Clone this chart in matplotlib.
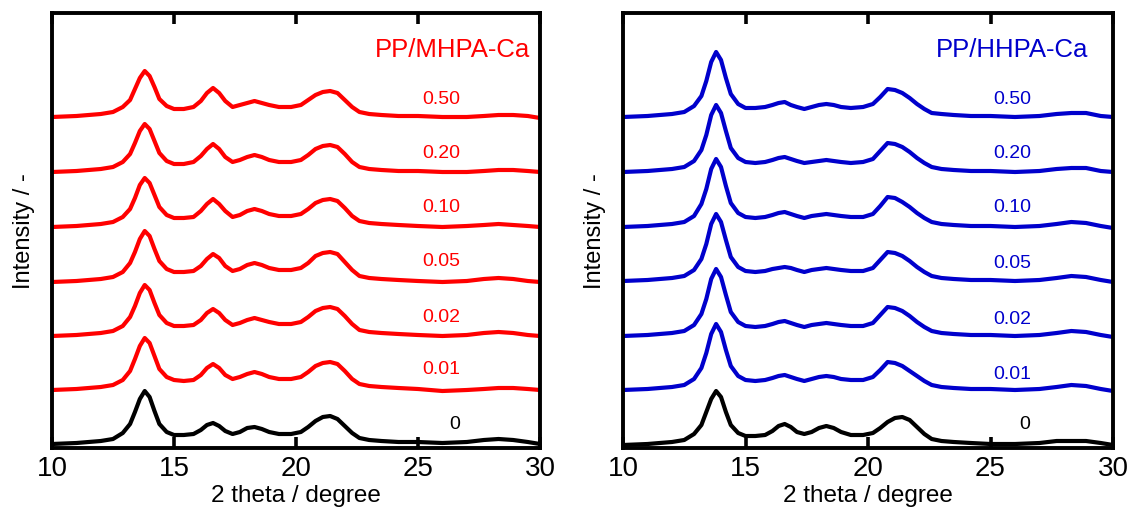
import matplotlib
matplotlib.use("Agg")
import matplotlib.pyplot as plt

plt.rcParams['font.family'] = ['Liberation Sans', 'DejaVu Sans']

# 2theta sample positions (degree)
two_theta = [10.0, 11.0, 12.0, 12.5, 12.9, 13.2, 13.4, 13.6, 13.8, 14.0, 14.2, 14.4,
             14.7, 15.0, 15.4, 15.8, 16.1, 16.35, 16.6, 16.85, 17.1, 17.4, 17.7, 18.0,
             18.3, 18.6, 18.9, 19.3, 19.8, 20.2, 20.5, 20.8, 21.1, 21.4, 21.7, 22.0,
             22.3, 22.6, 23.0, 23.5, 24.2, 25.0, 26.0, 27.0, 27.7, 28.3, 28.9, 29.5, 30.0]

# ---- PP/MHPA-Ca (left) intensities, relative to each curve's own baseline ----
mh_labels = ["0", "0.01", "0.02", "0.05", "0.10", "0.20", "0.50"]
mh_0   = [0, 1, 3, 5, 11, 20, 32, 45, 53, 47, 33, 20, 12, 9, 9, 10, 14, 19, 21, 18, 13, 10, 12, 16, 17, 15, 12, 10, 10, 12, 17, 23, 27, 28, 25, 18, 11, 6, 4, 3, 2, 2, 1, 2, 4, 5, 4, 2, 0]
mh_001 = [0, 1, 3, 5, 10, 19, 31, 44, 52, 47, 34, 21, 13, 10, 9, 10, 15, 22, 26, 22, 15, 11, 13, 16, 18, 16, 13, 11, 11, 13, 18, 24, 27, 28, 26, 19, 11, 6, 4, 3, 2, 1, -1, 0, 1, 2, 2, 1, 0]
mh_002 = [0, 1, 3, 5, 10, 19, 30, 43, 51, 46, 33, 21, 13, 10, 10, 11, 16, 23, 27, 23, 16, 11, 13, 16, 18, 16, 14, 12, 12, 14, 19, 25, 28, 29, 27, 20, 12, 6, 4, 3, 2, 1, 0, 1, 3, 4, 3, 1, 0]
mh_005 = [0, 1, 3, 5, 10, 19, 30, 43, 51, 46, 33, 21, 13, 10, 10, 11, 16, 23, 28, 24, 16, 11, 13, 17, 19, 17, 14, 12, 12, 14, 19, 26, 29, 30, 28, 20, 12, 6, 4, 3, 2, 1, 0, 1, 3, 4, 3, 1, 0]
mh_010 = [0, 1, 3, 5, 10, 18, 29, 42, 49, 44, 32, 20, 12, 9, 9, 10, 16, 23, 28, 23, 16, 10, 12, 16, 18, 16, 13, 11, 11, 13, 18, 24, 27, 28, 26, 19, 11, 6, 4, 3, 2, 1, 0, 1, 2, 3, 2, 1, 0]
mh_020 = [0, 1, 3, 5, 10, 18, 29, 41, 48, 43, 31, 19, 11, 8, 8, 10, 16, 23, 28, 23, 15, 10, 12, 15, 17, 15, 12, 10, 10, 12, 17, 23, 26, 27, 25, 18, 10, 5, 3, 2, 1, 1, 0, 0, 1, 2, 2, 1, 0]
mh_050 = [0, 1, 3, 5, 10, 17, 28, 39, 46, 41, 30, 18, 11, 8, 8, 10, 16, 24, 29, 24, 16, 10, 12, 14, 16, 14, 12, 10, 10, 12, 17, 22, 25, 26, 24, 17, 10, 5, 3, 2, 1, 1, 0, 0, 1, 2, 2, 1, -1]
mh_curves = [mh_0, mh_001, mh_002, mh_005, mh_010, mh_020, mh_050]

# ---- PP/HHPA-Ca (right) ----
hh_labels = ["0", "0.01", "0.02", "0.05", "0.10", "0.20", "0.50"]
hh_0   = [0, 1, 3, 5, 11, 20, 33, 46, 54, 48, 33, 20, 12, 9, 9, 10, 14, 19, 21, 18, 13, 11, 13, 17, 19, 17, 13, 10, 10, 12, 17, 23, 27, 28, 25, 18, 11, 6, 4, 3, 2, 1, 1, 2, 4, 4, 4, 2, 0]
hh_001 = [0, 1, 3, 5, 11, 22, 37, 56, 66, 58, 40, 24, 14, 10, 9, 10, 12, 14, 15, 13, 11, 9, 11, 13, 14, 13, 11, 10, 10, 13, 20, 28, 27, 24, 19, 14, 9, 5, 3, 2, 1, 1, 0, 1, 3, 5, 4, 1, -1]
hh_002 = [0, 1, 3, 5, 11, 22, 37, 57, 67, 59, 41, 24, 14, 10, 9, 10, 12, 14, 15, 13, 11, 9, 11, 12, 13, 12, 11, 10, 10, 13, 21, 29, 28, 25, 20, 14, 9, 5, 3, 2, 1, 1, 0, 1, 3, 5, 4, 1, -1]
hh_005 = [0, 1, 3, 5, 11, 22, 37, 57, 67, 59, 41, 24, 14, 10, 9, 10, 12, 13, 14, 13, 11, 9, 11, 12, 13, 12, 11, 10, 10, 13, 21, 29, 28, 25, 20, 14, 9, 5, 3, 2, 1, 1, 0, 1, 3, 5, 4, 1, -1]
hh_010 = [0, 1, 3, 5, 11, 23, 38, 58, 68, 60, 41, 24, 14, 10, 9, 10, 12, 14, 15, 13, 11, 9, 11, 12, 13, 12, 11, 10, 10, 13, 21, 30, 29, 25, 20, 14, 9, 5, 3, 2, 1, 1, 0, 1, 3, 5, 4, 1, -1]
hh_020 = [0, 1, 3, 5, 11, 22, 37, 57, 67, 59, 41, 24, 14, 10, 9, 10, 12, 14, 15, 13, 11, 9, 10, 11, 12, 11, 10, 9, 10, 13, 21, 29, 28, 25, 20, 14, 9, 5, 3, 2, 1, 1, 0, 1, 3, 4, 4, 1, 0]
hh_050 = [0, 1, 3, 5, 11, 21, 36, 55, 65, 57, 39, 23, 13, 9, 9, 10, 12, 14, 15, 12, 10, 8, 10, 12, 13, 12, 10, 9, 10, 13, 20, 28, 27, 24, 19, 13, 8, 4, 3, 2, 1, 1, 0, 1, 3, 4, 4, 1, 0]
hh_curves = [hh_0, hh_001, hh_002, hh_005, hh_010, hh_020, hh_050]

# vertical stacking offsets (layout)
mh_offsets = [4, 58, 112, 166, 221, 276, 331]
hh_offsets = [3, 58, 112, 167, 221, 276, 331]

# label placement (layout)
mh_label_x = [26.5, 25.95, 25.95, 25.95, 25.95, 25.95, 25.95]
mh_label_y = [24, 79, 132, 187, 241, 296, 349]
hh_label_x = [26.4, 25.9, 25.9, 25.9, 25.9, 25.9, 25.9]
hh_label_y = [24, 74, 130, 185, 241, 295, 349]

W, H = 1129, 510
fig = plt.figure(figsize=(W / 100, H / 100), dpi=100)
axL = fig.add_axes([52 / W, 1 - 449 / H, 488 / W, 435 / H])
axR = fig.add_axes([623 / W, 1 - 449 / H, 490 / W, 435 / H])


def draw(ax, curves, offsets, labels, lx, ly, color, title, tx):
    for i, (c, off) in enumerate(zip(curves, offsets)):
        col = 'black' if i == 0 else color
        ax.plot(two_theta, [v + off for v in c], color=col, lw=3.0,
                solid_joinstyle='round', solid_capstyle='round')
        ax.text(lx[i], ly[i], labels[i], color=col, fontsize=14,
                ha='center', va='center')
    ax.text(tx, 399, title, color=color, fontsize=18.5, ha='center', va='center')
    ax.set_xlim(10, 30)
    ax.set_ylim(0, 435)
    ax.set_xticks([10, 15, 20, 25, 30])
    ax.set_yticks([])
    ax.tick_params(axis='x', direction='in', top=True, bottom=True, length=8,
                   width=2.6, labelsize=20, pad=5)
    for s in ax.spines.values():
        s.set_linewidth(2.8)
    ax.set_xlabel('2 theta / degree', fontsize=17.5, labelpad=2)
    ax.set_ylabel('Intensity / -', fontsize=17, labelpad=12)


draw(axL, mh_curves, mh_offsets, mh_labels, mh_label_x, mh_label_y, '#ff0000',
     'PP/MHPA-Ca', 26.4)
draw(axR, hh_curves, hh_offsets, hh_labels, hh_label_x, hh_label_y, '#0000cc',
     'PP/HHPA-Ca', 25.9)

fig.savefig('out.png', dpi=100)
